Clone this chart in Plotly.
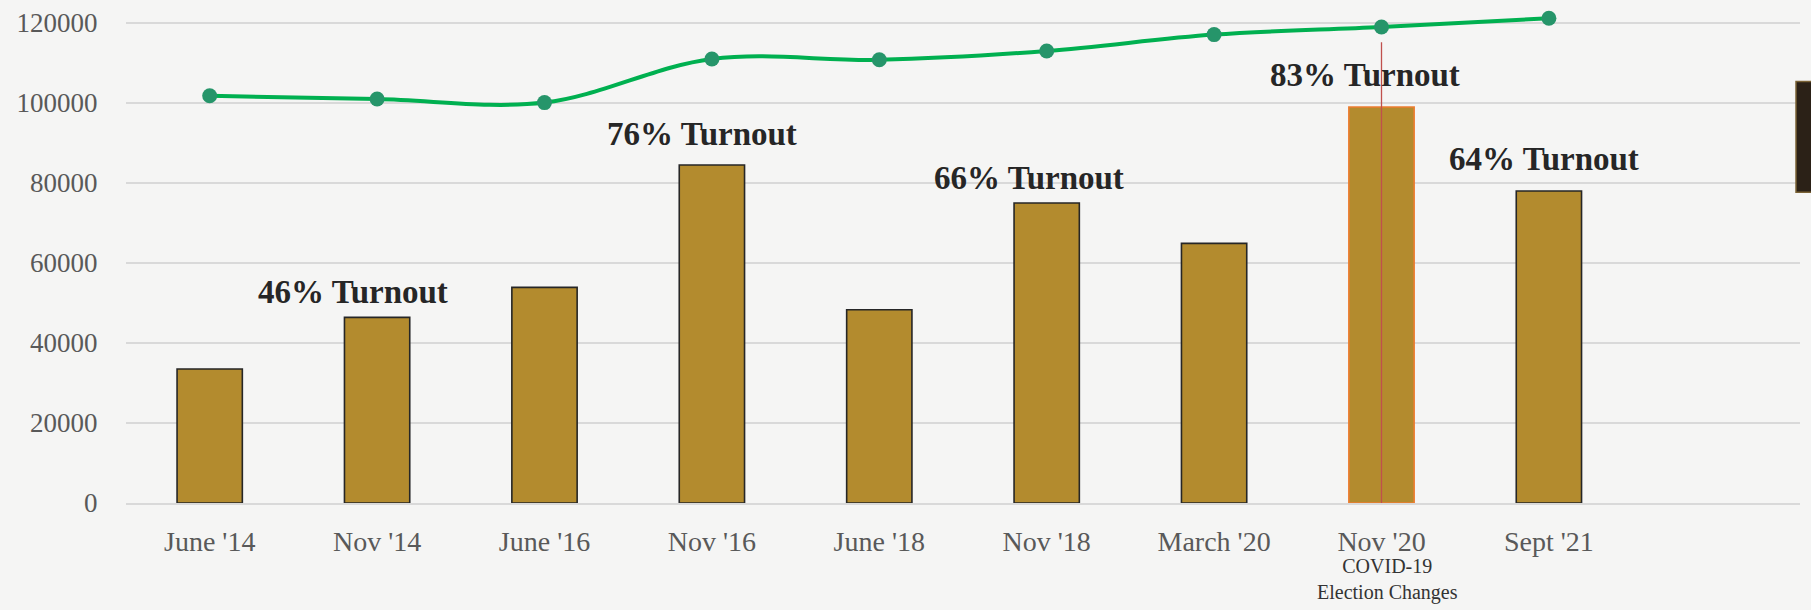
import plotly.graph_objects as go

categories = ["June '14", "Nov '14", "June '16", "Nov '16", "June '18",
              "Nov '18", "March '20", "Nov '20", "Sept '21"]
ballots_cast = [33500, 46400, 53900, 84500, 48300, 75000, 64900, 99000, 78000]
registered = [101800, 101000, 100100, 111000, 110800, 113000, 117100, 119000, 121200]

turnout_cats = ["Nov '14", "Nov '16", "Nov '18", "Nov '20", "Sept '21"]
turnout_pct = [46, 76, 66, 83, 64]
turnout_xshift = [-24, -10, -18, -17, -5]
turnout_yshift = [5, 11, 5, 12, 12]

y_ticks = [0, 20000, 40000, 60000, 80000, 100000, 120000]
covid_cat = "Nov '20"
covid_note = "COVID-19<br>Election Changes"
covid_line_span = [-900, 115200]

FONT = "Liberation Serif"
BG = "#f5f5f4"

x_idx = list(range(len(categories)))

bar_line_colors = ["#ed7d31" if c == covid_cat else "#262626" for c in categories]

fig = go.Figure()
fig.add_trace(go.Bar(
    x=x_idx, y=ballots_cast, name="Ballots Cast",
    marker=dict(color="#b38b2e", line=dict(color=bar_line_colors, width=1.6)),
    width=0.39, showlegend=False,
))
fig.add_trace(go.Scatter(
    x=x_idx, y=registered, name="Registered Voters",
    mode="lines+markers",
    line=dict(color="#00b050", width=4, shape="spline", smoothing=1.0),
    marker=dict(color="#26956a", size=15),
    cliponaxis=False, showlegend=False,
))

ci = categories.index(covid_cat)
fig.add_shape(type="line", xref="x", yref="y", x0=ci, x1=ci,
              y0=covid_line_span[0], y1=covid_line_span[1],
              line=dict(color="#c0504d", width=1.3), layer="above")

for cat, pct, xs, ys in zip(turnout_cats, turnout_pct, turnout_xshift, turnout_yshift):
    i = categories.index(cat)
    fig.add_annotation(x=i, y=ballots_cast[i], text=f"<b>{pct}% Turnout</b>",
                       showarrow=False, yanchor="bottom", xshift=xs, yshift=ys,
                       font=dict(family=FONT, size=33, color="#262626"))

fig.add_annotation(x=ci, y=0, yref="y", text=covid_note, showarrow=False,
                   yanchor="top", yshift=-50, xshift=6,
                   font=dict(family=FONT, size=20, color="#333333"))

# decorative dark bracket at right edge
fig.add_shape(type="rect", xref="paper", yref="paper", xsizemode="pixel", xanchor=1,
              x0=-4, x1=14, y0=0.634, y1=0.860,
              fillcolor="#2b2117", line=dict(color="#7a6235", width=1.5), layer="above")

fig.update_layout(
    width=1811, height=610,
    margin=dict(l=126, r=11, t=13, b=107, autoexpand=False),
    paper_bgcolor=BG, plot_bgcolor=BG,
    font=dict(family=FONT, size=27, color="#595959"),
    xaxis=dict(
        tickmode="array", tickvals=x_idx, ticktext=categories,
        range=[-0.5, 9.5], showgrid=False, zeroline=False,
        showline=True, linecolor="#d9d9d9", linewidth=1.5,
        ticks="outside", ticklen=13, tickcolor="rgba(0,0,0,0)",
        tickfont=dict(family=FONT, size=28, color="#595959"),
        automargin=False,
    ),
    yaxis=dict(
        range=[0, 122500], tickvals=y_ticks, tickformat="d",
        showgrid=True, gridcolor="#d9d9d9", gridwidth=1.5,
        zeroline=False, showline=False,
        ticks="outside", ticklen=22, tickcolor="rgba(0,0,0,0)",
        tickfont=dict(family=FONT, size=27, color="#595959"),
        automargin=False,
    ),
    bargap=0.6,
)

fig.write_html(
    "out.html",
    config={"displayModeBar": False},
    post_script="document.body.style.margin='0';document.body.style.overflow='hidden';"
                "document.body.style.background='" + BG + "';",
)
